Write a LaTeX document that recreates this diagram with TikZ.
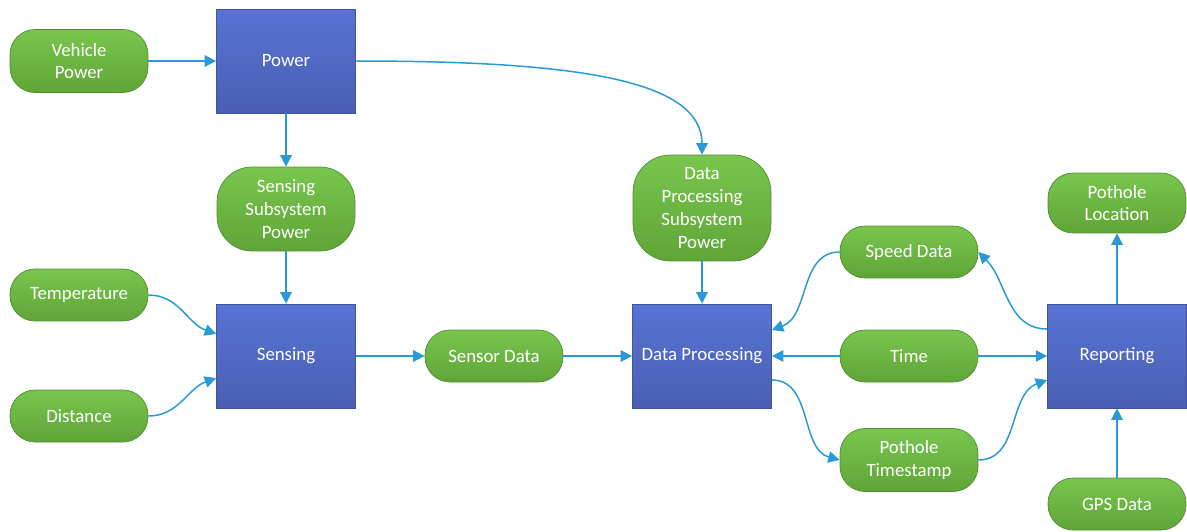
\documentclass[tikz,border=0pt]{standalone}
\usepackage{fontspec}
\setmainfont{Carlito}
\usetikzlibrary{arrows.meta}

\definecolor{linkblue}{HTML}{2A9AD6}
\definecolor{boxtop}{HTML}{5873D3}
\definecolor{boxbot}{HTML}{4A5FB3}
\definecolor{boxedge}{HTML}{3F52A3}
\definecolor{pilltop}{HTML}{78C64E}
\definecolor{pillbot}{HTML}{5FA537}
\definecolor{pilledge}{HTML}{4F8E2F}

\tikzset{
	block/.style={draw=boxedge, line width=0.4pt, top color=boxtop, bottom color=boxbot,
		minimum width=2.78cm, minimum height=2.08cm, inner sep=0pt, text=white,
		font=\fontsize{10.7}{13}\selectfont},
	pill/.style={draw=pilledge, line width=0.4pt, top color=pilltop, bottom color=pillbot,
		rounded corners=0.5cm, minimum width=2.76cm, minimum height=1.04cm, inner sep=0pt,
		text=white, align=center, font=\fontsize{10.7}{13}\selectfont},
	link/.style={draw=linkblue, line width=0.85pt, -{Triangle[length=6.5pt,width=6.5pt]}}
}

\begin{document}
\begin{tikzpicture}[x=0.02cm, y=-0.02cm]
		%\draw [help lines] (0,0) grid (1187,531);
		\useasboundingbox (0,0) rectangle (1187,531);
		% Alimentazione
		\node [pill, minimum height=1.26cm] (vehicle) at (79,61) {Vehicle\\Power};
		\node [block] (power) at (286,61) {Power};
		\node [pill, minimum height=1.68cm, rounded corners=0.7cm] (senspower) at (286,209) {Sensing\\Subsystem\\Power};
		\node [pill, minimum height=2.12cm, rounded corners=0.75cm] (procpower) at (702,208) {Data\\Processing\\Subsystem\\Power};
		% Sensori
		\node [pill] (temp) at (79,295) {Temperature};
		\node [pill] (dist) at (79,416) {Distance};
		\node [block] (sensing) at (286,356) {Sensing};
		\node [pill] (sensdata) at (494,356) {Sensor Data};
		% Elaborazione
		\node [block] (proc) at (702,356) {Data Processing};
		\node [pill] (speed) at (909,252) {Speed Data};
		\node [pill] (time) at (909,356) {Time};
		\node [pill, minimum height=1.26cm] (stamp) at (909,460) {Pothole\\Timestamp};
		% Segnalazione
		\node [block] (report) at (1117,356) {Reporting};
		\node [pill, minimum height=1.2cm] (location) at (1117,203) {Pothole\\Location};
		\node [pill] (gps) at (1117,504) {GPS Data};

		% Collegamenti
		\draw [link] (vehicle) -- (power);
		\draw [link] (power) -- (senspower);
		\draw [link] (power.east) .. controls +(220,0) and +(0,-75) .. (procpower.north);
		\draw [link] (senspower) -- (sensing);
		\draw [link] (temp.east) to[out=0,in=160] ([yshift=0.44cm]sensing.west);
		\draw [link] (dist.east) to[out=0,in=200] ([yshift=-0.44cm]sensing.west);
		\draw [link] (sensing) -- (sensdata);
		\draw [link] (sensdata) -- (proc);
		\draw [link] (procpower) -- (proc);
		\draw [link] (speed.west) to[out=180,in=20] ([yshift=0.52cm]proc.east);
		\draw [link] (time) -- (proc);
		\draw [link] (time) -- (report);
		\draw [link] ([yshift=-0.48cm]proc.east) to[out=0,in=165] (stamp.west);
		\draw [link] (stamp.east) to[out=0,in=200] ([yshift=-0.48cm]report.west);
		\draw [link] ([yshift=0.54cm]report.west) to[out=180,in=-45] (speed.east);
		\draw [link] (report) -- (location);
		\draw [link] (gps) -- (report);
	\end{tikzpicture}
\end{document}
